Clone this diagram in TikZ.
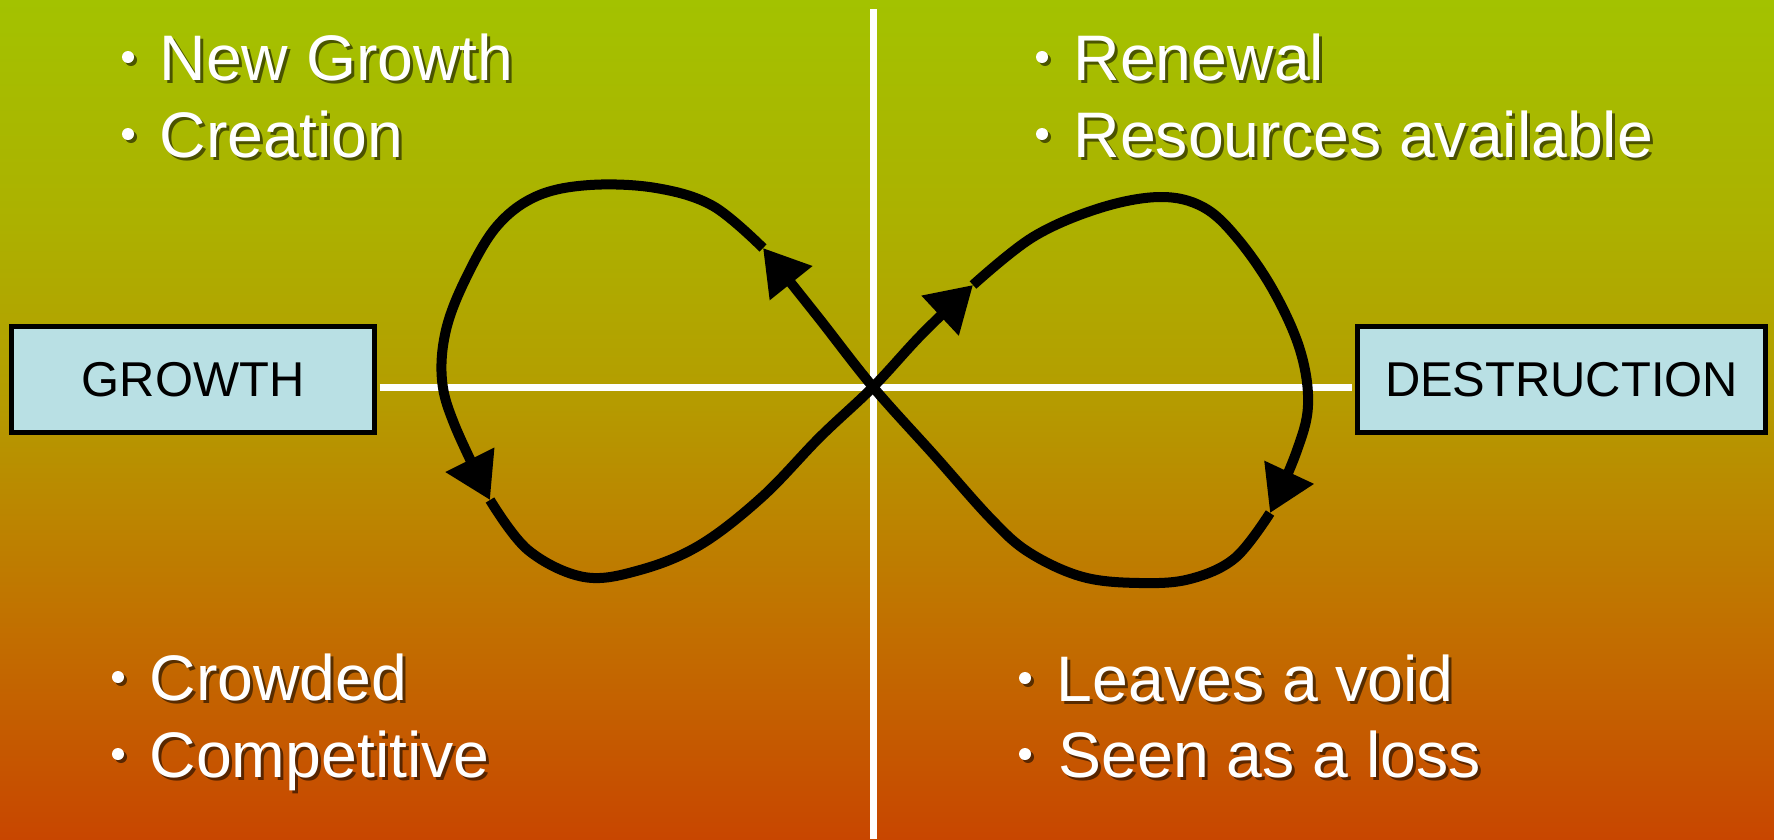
\documentclass[tikz,border=0pt]{standalone}
\usepackage{fontspec}
\setmainfont{Liberation Sans}
\usetikzlibrary{arrows.meta}

% background gradient colours, top to bottom
\definecolor{bgA}{RGB}{163,194,0}
\definecolor{bgB}{RGB}{172,177,0}
\definecolor{bgC}{RGB}{180,158,0}
\definecolor{bgD}{RGB}{193,115,0}
\definecolor{bgE}{RGB}{200,70,0}
\definecolor{boxfill}{RGB}{185,224,228}

\pgfdeclareverticalshading{skyfade}{100bp}{%
  color(0bp)=(bgE); color(25bp)=(bgE); color(38.65bp)=(bgD);
  color(51.94bp)=(bgC); color(61.89bp)=(bgB); color(75bp)=(bgA);
  color(100bp)=(bgA)}

% one bulleted line: name, bullet x, text x, baseline y, text
\newcommand{\bulletline}[5]{%
  \node[dotshadow] (#1-ds) at (#2,#4-23) {};
  \node[dot] (#1-d) at (#2,#4-23) {};
  \node[txtshadow] (#1-s) at (#3,#4) {#5};
  \node[txt] (#1) at (#3,#4) {#5};
}

\begin{document}
\begin{tikzpicture}[x=0.01cm, y=-0.01cm,
  stagebox/.style={draw=black, line width=0.05cm, fill=boxfill, inner sep=0,
    minimum height=1.06cm, font=\fontsize{13.9pt}{16pt}\selectfont},
  axisline/.style={draw=white, line width=0.07cm},
  cyclepath/.style={draw=black, line width=0.1cm, line join=round,
    -{Triangle[length=0.45cm, width=0.52cm]}},
  txt/.style={anchor=base west, inner sep=0, text=white,
    font=\fontsize{18.3pt}{22pt}\selectfont},
  txtshadow/.style={txt, text=black, text opacity=0.55,
    xshift=0.03cm, yshift=-0.03cm},
  dot/.style={circle, fill=white, inner sep=0, minimum size=0.12cm},
  dotshadow/.style={dot, fill=black, fill opacity=0.55,
    xshift=0.03cm, yshift=-0.03cm}]

\useasboundingbox (0,0) rectangle (1774,839);
\shade[shading=skyfade] (0,0) rectangle (1774,839);

\coordinate (O) at (873,387);
\coordinate (vtop) at (873,9);
\coordinate (vbot) at (873,839);

% the two stage boxes
\node[stagebox, minimum width=3.63cm] (growth) at (193,379.5) {GROWTH};
\node[stagebox, minimum width=4.08cm] (destr) at (1561.5,379.5) {DESTRUCTION};

% axes
\draw[axisline] (vtop) -- (vbot);
\draw[axisline, shorten <=0.025cm, shorten >=0.025cm]
  (growth.east |- O) -- (destr.west |- O);

% arrow heads along the figure eight
\coordinate (tipA) at (763,248);
\coordinate (tipB) at (490,500);
\coordinate (tipC) at (973,285);
\coordinate (tipD) at (1270,513);

\draw[cyclepath] plot[smooth, tension=0.6] coordinates {(tipD) (1235,558)
  (1190,579) (1140,583) (1083,577) (1030,553) (992,520) (934,455) (O)
  (818,317) (tipA)};
\draw[cyclepath] plot[smooth, tension=0.6] coordinates {(tipA) (713,206)
  (656,188) (590,185) (537,196) (497,226) (466,278) (446,330) (442,380)
  (455,426) (tipB)};
\draw[cyclepath] plot[smooth, tension=0.6] coordinates {(tipB) (528,550)
  (584,577) (640,570) (700,545) (762,497) (820,437) (O) (922,334) (tipC)};
\draw[cyclepath] plot[smooth, tension=0.6] coordinates {(tipC) (1033,237)
  (1100,208) (1160,197) (1203,207) (1237,238) (1273,290) (1300,350)
  (1308,405) (1296,453) (tipD)};

% bulleted notes in the four quadrants
\bulletline{ng}{128}{159}{80}{New Growth}
\bulletline{cr}{128}{159}{157}{Creation}
\bulletline{rn}{1042}{1073}{80}{Renewal}
\bulletline{rs}{1042}{1073}{157}{Resources available}
\bulletline{cw}{118}{149}{700}{Crowded}
\bulletline{cp}{118}{149}{777}{Competitive}
\bulletline{lv}{1025}{1056}{701}{Leaves a void}
\bulletline{sn}{1025}{1058}{777}{Seen as a loss}

\end{tikzpicture}
\end{document}
